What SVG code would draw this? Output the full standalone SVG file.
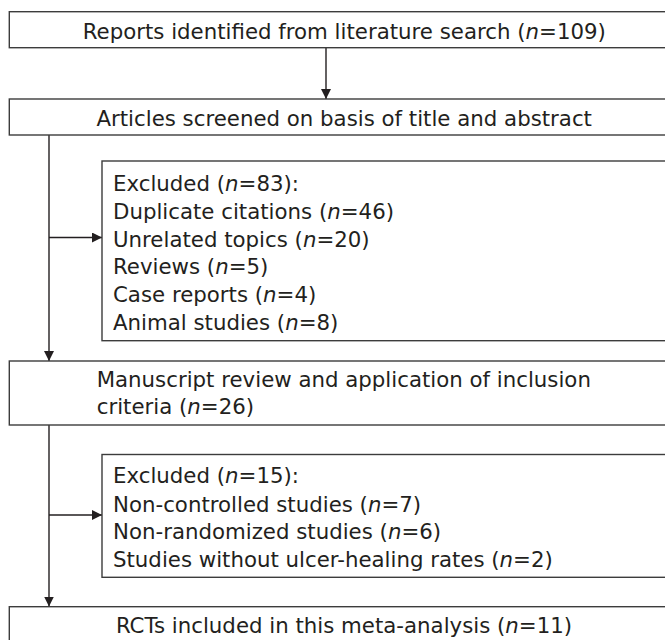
<svg xmlns="http://www.w3.org/2000/svg" width="665" height="640" viewBox="0 0 665 640">
<style>
.box{fill:#fff;stroke:#3c3c3c;stroke-width:1.4}
.t{font-family:"DejaVu Sans",Verdana,sans-serif;font-size:21.3px;fill:#231f20}
.c{text-anchor:middle}
.i{font-style:italic}
.ln{stroke:#231f20;stroke-width:1.4;fill:none}
</style>
<defs>
<marker id="ah" viewBox="0 0 10 10" refX="10" refY="5" markerWidth="10" markerHeight="10" markerUnits="userSpaceOnUse" orient="auto">
<path d="M0,0 L10,5 L0,10 Z" fill="#231f20"/>
</marker>
</defs>
<rect width="665" height="640" fill="#fff"/>
<g id="connectors">
<line class="ln" x1="326" y1="48" x2="326" y2="99" marker-end="url(#ah)"/>
<line class="ln" x1="49" y1="135" x2="49" y2="361" marker-end="url(#ah)"/>
<line class="ln" x1="49" y1="237.5" x2="102" y2="237.5" marker-end="url(#ah)"/>
<line class="ln" x1="49" y1="425" x2="49" y2="606.5" marker-end="url(#ah)"/>
<line class="ln" x1="49" y1="515" x2="102" y2="515" marker-end="url(#ah)"/>
</g>
<g id="n1">
<rect class="box" x="9.3" y="11.7" width="680" height="36"/>
<text class="t c" x="344.3" y="39">Reports identified from literature search (<tspan class="i">n</tspan>=109)</text>
</g>
<g id="n2">
<rect class="box" x="9.3" y="99" width="680" height="36"/>
<text class="t c" x="344.2" y="126">Articles screened on basis of title and abstract</text>
</g>
<g id="n3">
<rect class="box" x="102" y="161" width="600" height="179.7"/>
<text class="t" x="113" y="191">Excluded (<tspan class="i">n</tspan>=83):</text>
<text class="t" x="113" y="218.8">Duplicate citations (<tspan class="i">n</tspan>=46)</text>
<text class="t" x="113" y="246.6">Unrelated topics (<tspan class="i">n</tspan>=20)</text>
<text class="t" x="113" y="274.4">Reviews (<tspan class="i">n</tspan>=5)</text>
<text class="t" x="113" y="302.2">Case reports (<tspan class="i">n</tspan>=4)</text>
<text class="t" x="113" y="330">Animal studies (<tspan class="i">n</tspan>=8)</text>
</g>
<g id="n4">
<rect class="box" x="9.3" y="361" width="680" height="64"/>
<text class="t" x="96.7" y="386.7">Manuscript review and application of inclusion</text>
<text class="t" x="96.7" y="413.5">criteria (<tspan class="i">n</tspan>=26)</text>
</g>
<g id="n5">
<rect class="box" x="102" y="454.5" width="600" height="122.8"/>
<text class="t" x="113" y="483.3">Excluded (<tspan class="i">n</tspan>=15):</text>
<text class="t" x="113" y="511.5">Non-controlled studies (<tspan class="i">n</tspan>=7)</text>
<text class="t" x="113" y="539.2">Non-randomized studies (<tspan class="i">n</tspan>=6)</text>
<text class="t" x="113" y="567">Studies without ulcer-healing rates (<tspan class="i">n</tspan>=2)</text>
</g>
<g id="n6">
<rect class="box" x="9.3" y="606.7" width="680" height="60"/>
<text class="t c" x="344" y="633">RCTs included in this meta-analysis (<tspan class="i">n</tspan>=11)</text>
</g>
</svg>
